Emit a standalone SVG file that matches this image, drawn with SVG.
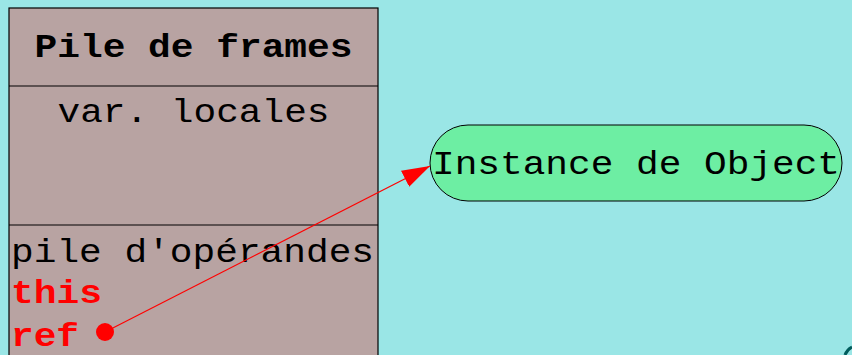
<svg xmlns="http://www.w3.org/2000/svg" width="852" height="355" viewBox="0 0 852 355">
<style>
.t{font-family:"Liberation Mono","Courier New",monospace;font-size:34px;fill:#000}
.b{font-weight:bold}
.r{fill:#ff0000;font-weight:bold}
</style>
<defs>
<marker id="ah" viewBox="0 0 28 18" refX="28" refY="9" markerWidth="28" markerHeight="18" markerUnits="userSpaceOnUse" orient="auto">
<path d="M0,0 L28,9 L0,18 Z" fill="#ff0000"/>
</marker>
</defs>
<rect width="852" height="355" fill="#9ae6e6"/>
<g id="frames">
<rect x="9" y="8" width="369" height="360" fill="#b8a3a2" stroke="#000" stroke-width="1.2"/>
<line x1="9" y1="86" x2="378" y2="86" stroke="#000" stroke-width="1.2"/>
<line x1="9" y1="225" x2="378" y2="225" stroke="#000" stroke-width="1.2"/>
<text class="t b" x="193.5" y="57" text-anchor="middle" textLength="318" lengthAdjust="spacingAndGlyphs">Pile de frames</text>
<text class="t" x="193.5" y="122" text-anchor="middle" textLength="272" lengthAdjust="spacingAndGlyphs">var. locales</text>
<text class="t" x="11" y="262" textLength="363" lengthAdjust="spacingAndGlyphs">pile d'opérandes</text>
<text class="t r" x="11" y="303" textLength="91" lengthAdjust="spacingAndGlyphs">this</text>
<text class="t r" x="11" y="346" textLength="68" lengthAdjust="spacingAndGlyphs">ref</text>
</g>
<g id="instance">
<rect x="430" y="125" width="412" height="76" rx="38" ry="38" fill="#6deea3" stroke="#000" stroke-width="1"/>
<text class="t" x="636" y="174" text-anchor="middle" textLength="408" lengthAdjust="spacingAndGlyphs">Instance de Object</text>
</g>
<g id="connectors">
<circle cx="105" cy="332" r="9" fill="#ff0000"/>
<line x1="105" y1="332" x2="430" y2="166" stroke="#ff0000" stroke-width="1.2" marker-end="url(#ah)"/>
</g>
<path d="M845,355 A14,14 0 0 1 852,347" fill="none" stroke="#005c5c" stroke-width="3"/>
</svg>
